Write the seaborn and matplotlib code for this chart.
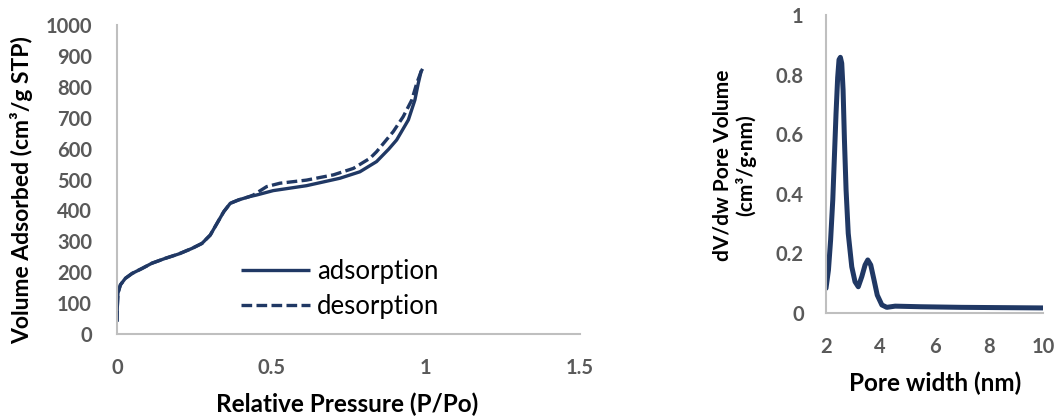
import matplotlib
matplotlib.use("Agg")
import matplotlib.pyplot as plt
import seaborn as sns
import pandas as pd

# ---------------- data ----------------
ads_p = [0.0, 0.001, 0.003, 0.011, 0.027, 0.049, 0.081, 0.113, 0.157, 0.2, 0.243,
         0.275, 0.302, 0.324, 0.346, 0.367, 0.394, 0.427, 0.453, 0.506, 0.614,
         0.722, 0.787, 0.841, 0.88, 0.906, 0.944, 0.965, 0.976, 0.985, 0.99]
ads_v = [40, 88, 132, 159, 180, 196, 212, 229, 245, 259, 277,
         293, 320, 358, 396, 423, 434, 444, 450, 464, 480,
         504, 525, 558, 598, 628, 693, 757, 811, 849, 858]

des_p = [0.0, 0.001, 0.003, 0.011, 0.027, 0.049, 0.081, 0.113, 0.157, 0.2, 0.243,
         0.275, 0.302, 0.324, 0.346, 0.367, 0.394, 0.427, 0.442, 0.485, 0.528,
         0.614, 0.701, 0.766, 0.82, 0.841, 0.895, 0.927, 0.955, 0.971, 0.985, 0.99]
des_v = [40, 88, 132, 159, 180, 196, 212, 229, 245, 259, 277,
         293, 320, 358, 396, 423, 434, 444, 450, 477, 488,
         498, 515, 536, 569, 590, 655, 703, 757, 811, 849, 858]

pore_w = [2.0, 2.09, 2.17, 2.25, 2.31, 2.37, 2.43, 2.48, 2.53, 2.58, 2.63, 2.68,
          2.74, 2.82, 2.95, 3.07, 3.19, 3.32, 3.44, 3.54, 3.65, 3.77, 3.89,
          4.06, 4.24, 4.55, 5.5, 7.0, 8.5, 10.0]
pore_dv = [0.083, 0.144, 0.245, 0.38, 0.525, 0.67, 0.79, 0.85, 0.858, 0.838, 0.748, 0.58,
           0.413, 0.267, 0.155, 0.105, 0.088, 0.122, 0.161, 0.178, 0.161, 0.111, 0.06,
           0.027, 0.019, 0.023, 0.021, 0.019, 0.018, 0.017]

x_ticks_left = [0, 0.5, 1, 1.5]
y_ticks_left = list(range(0, 1001, 100))
x_ticks_right = [2, 4, 6, 8, 10]
y_ticks_right = [0, 0.2, 0.4, 0.6, 0.8, 1]

# ---------------- style ----------------
sns.set_style("white")
plt.rcParams['font.family'] = ['Lato', 'DejaVu Sans']

NAVY = "#203864"
SPINE = "#BFBFBF"
TICK = "#595959"

fig = plt.figure(figsize=(10.59, 4.16), dpi=100)
axL = fig.add_axes([117/1059, 1-334/416, 463/1059, 309/416])
axR = fig.add_axes([826/1059, 1-313/416, 217/1059, 298/416])

iso = pd.concat([
    pd.DataFrame({"P": ads_p, "V": ads_v, "branch": "adsorption"}),
    pd.DataFrame({"P": des_p, "V": des_v, "branch": "desorption"}),
])
sns.lineplot(data=iso, x="P", y="V", hue="branch", style="branch",
             palette=[NAVY, NAVY], dashes=[(1, 0), (3.2, 1.3)], sort=False,
             estimator=None, lw=2.4, ax=axL)
for ln in axL.get_lines():
    ln.set_solid_joinstyle("round")
    ln.set_dash_joinstyle("round")

psd = pd.DataFrame({"w": pore_w, "dv": pore_dv})
sns.lineplot(data=psd, x="w", y="dv", color=NAVY, lw=3.6, sort=False,
             estimator=None, ax=axR)
for ln in axR.get_lines():
    ln.set_solid_joinstyle("round")
    ln.set_solid_capstyle("round")

def style(ax, xt, yt, xl, yl, xlab, ylab, xlc, ylc, xpad, ypad, xls, yls):
    ax.set_xlim(*xl)
    ax.set_ylim(*yl)
    ax.set_xticks(xt)
    ax.set_yticks(yt)
    ax.set_xticklabels([f"{v:g}" for v in xt])
    ax.set_yticklabels([f"{v:g}" for v in yt])
    for s in ["top", "right"]:
        ax.spines[s].set_visible(False)
    for s in ["left", "bottom"]:
        ax.spines[s].set_color(SPINE)
        ax.spines[s].set_linewidth(1.5)
    ax.tick_params(axis="x", length=0, pad=xpad, labelsize=14.5, labelcolor=TICK)
    ax.tick_params(axis="y", length=0, pad=ypad, labelsize=14.5, labelcolor=TICK)
    for lab in ax.get_xticklabels() + ax.get_yticklabels():
        lab.set_fontweight("bold")
    ax.set_xlabel(xlab, fontsize=xls, fontweight="bold", color="black", va="center")
    ax.set_ylabel(ylab, fontsize=yls, fontweight="bold", color="black", va="center",
                  ha="center", multialignment="center", linespacing=1.15)
    ax.xaxis.set_label_coords(*xlc)
    ax.yaxis.set_label_coords(*ylc)
    ax.grid(False)

style(axL, x_ticks_left, y_ticks_left, (0, 1.5), (0, 1000),
      "Relative Pressure (P/Po)", "Volume Adsorbed (cm³/g STP)",
      (0.497, -0.2265), (-0.205, 0.466), 17, 18, 17.5, 16.5)
style(axR, x_ticks_right, y_ticks_right, (2, 10), (0, 1),
      "Pore width (nm)", "dV/dw Pore Volume\n(cm³/g·nm)",
      (0.502, -0.235), (-0.424, 0.497), 17, 16, 17.5, 15)

leg = axL.legend(loc="upper left", bbox_to_anchor=(0.268, 0.243), frameon=False,
                 fontsize=18.5, handlelength=2.7, handletextpad=0.25,
                 borderpad=0, borderaxespad=0, labelspacing=0.39)
for t in leg.get_texts():
    t.set_color("black")

fig.savefig("out.png", dpi=100)
